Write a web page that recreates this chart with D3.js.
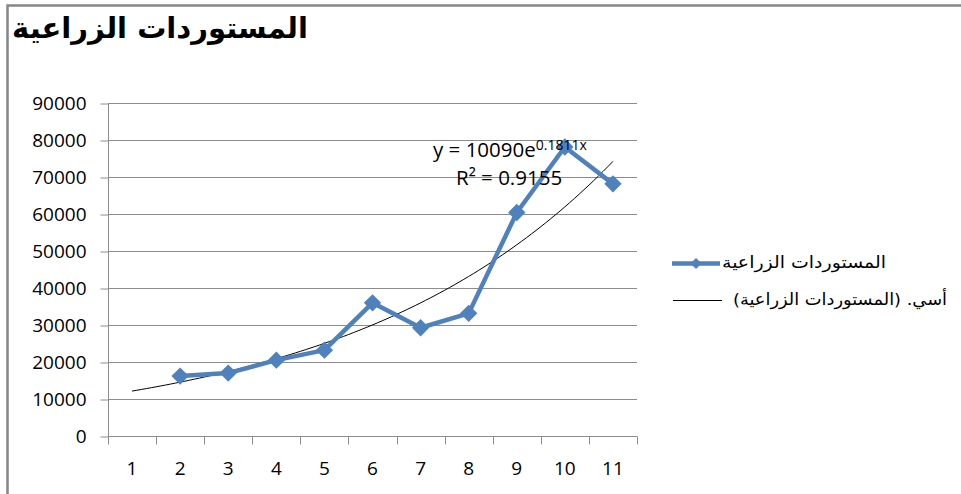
<!DOCTYPE html>
<html>
<head>
<meta charset="utf-8">
<script src="https://cdn.jsdelivr.net/npm/d3@7"></script>
<style>
  body { margin: 0; background: #fff; }
  svg { display: block; }
</style>
</head>
<body>
<div id="chart"></div>
<script>
// chart data
var categories = ["1", "2", "3", "4", "5", "6", "7", "8", "9", "10", "11"];
var imports = [null, 16200, 17000, 20500, 23200, 36000, 29250, 33150, 60400, 78100, 68150];
var yTicks = [0, 10000, 20000, 30000, 40000, 50000, 60000, 70000, 80000, 90000];
var titleText = "المستوردات الزراعية";
var seriesName = "المستوردات الزراعية";
var trendName = "أسي. (المستوردات الزراعية)";
var eqMain = "y = 10090e";
var eqExp = "0.1811x";
var r2Text = "R² = 0.9155";

var svgWidth = 961, svgHeight = 494;
var margin = { top: 103, left: 108, right: 324, bottom: 58 };
var width = svgWidth - margin.left - margin.right;
var height = svgHeight - margin.top - margin.bottom;
var blue = "#4F81BD", gridCol = "#8c8c8c";

var svg = d3.select("#chart").append("svg")
  .attr("width", svgWidth)
  .attr("height", svgHeight);

svg.append("rect").attr("width", svgWidth).attr("height", svgHeight).attr("fill", "#fff");

// outer chart border
svg.append("rect")
  .attr("x", 7.5).attr("y", 5.5)
  .attr("width", 980).attr("height", 520)
  .attr("fill", "none")
  .attr("stroke", "#868686")
  .attr("stroke-width", 2.5);

svg.append("text")
  .attr("x", 12).attr("y", 38)
  .attr("font-family", "DejaVu Sans, sans-serif")
  .attr("font-weight", "bold")
  .attr("font-size", 29)
  .attr("textLength", 296)
  .attr("lengthAdjust", "spacingAndGlyphs")
  .attr("fill", "#000")
  .text(titleText);

var g = svg.append("g").attr("transform", `translate(${margin.left},${margin.top})`);

var xScale = d3.scaleBand().domain(categories).range([0, width]);
var yScale = d3.scaleLinear().domain([0, 90000]).range([height, 0]);

// gridlines
g.selectAll(".grid").data(yTicks.slice(1)).enter().append("line")
  .attr("x1", 0).attr("x2", width)
  .attr("y1", d => Math.round(yScale(d)) + 0.5)
  .attr("y2", d => Math.round(yScale(d)) + 0.5)
  .attr("stroke", gridCol).attr("stroke-width", 1);

// y axis
var yAxis = d3.axisLeft(yScale).tickValues(yTicks).tickSize(8).tickPadding(14).tickFormat(d3.format("d"));
var yg = g.append("g").attr("transform", "translate(0.5,0)").call(yAxis);
yg.select(".domain").remove();
yg.append("line").attr("x1", 0).attr("x2", 0).attr("y1", 0).attr("y2", height)
  .attr("stroke", gridCol);
yg.selectAll(".tick line").attr("stroke", gridCol);
yg.selectAll(".tick line").attr("transform", "translate(0,0.5)");
yg.selectAll("text")
  .attr("font-family", "Open Sans, sans-serif")
  .attr("font-size", 19)
  .attr("fill", "#000");

// x axis, ticks between categories
var xg = g.append("g").attr("transform", `translate(0,${Math.round(height) + 0.5})`);
xg.append("line").attr("x1", 0).attr("x2", width).attr("stroke", gridCol);
var bounds = d3.range(categories.length + 1).map(i => i * xScale.step());
xg.selectAll(".xt").data(bounds).enter().append("line")
  .attr("x1", d => Math.round(d) + 0.5).attr("x2", d => Math.round(d) + 0.5)
  .attr("y1", 0).attr("y2", 8)
  .attr("stroke", gridCol);
xg.selectAll(".xl").data(categories).enter().append("text")
  .attr("x", d => xScale(d) + xScale.bandwidth() / 2)
  .attr("y", 38)
  .attr("text-anchor", "middle")
  .attr("font-family", "Open Sans, sans-serif")
  .attr("font-size", 19)
  .attr("fill", "#000")
  .text(d => d);

var cx = i => xScale(categories[i]) + xScale.bandwidth() / 2;

// exponential trendline fitted on the data (x = category number)
var pts = imports.map((v, i) => ({ x: i + 1, v: v })).filter(p => p.v != null);
var mx = d3.mean(pts, p => p.x), my = d3.mean(pts, p => Math.log(p.v));
var b = d3.sum(pts, p => (p.x - mx) * (Math.log(p.v) - my)) / d3.sum(pts, p => (p.x - mx) * (p.x - mx));
var a = Math.exp(my - b * mx);
var trendX = d3.range(1, categories.length + 0.001, 0.1);
var xPos = d3.scaleLinear().domain([1, categories.length]).range([cx(0), cx(categories.length - 1)]);

g.append("path")
  .datum(trendX)
  .attr("d", d3.line().x(d => xPos(d)).y(d => yScale(a * Math.exp(b * d))))
  .attr("fill", "none")
  .attr("stroke", "#000")
  .attr("stroke-width", 1);

// series line
var seriesPts = imports.map((v, i) => ({ i: i, v: v })).filter(p => p.v != null);
g.append("path")
  .datum(seriesPts)
  .attr("d", d3.line().x(d => cx(d.i)).y(d => yScale(d.v)))
  .attr("fill", "none")
  .attr("stroke", blue)
  .attr("stroke-width", 4.5)
  .attr("stroke-linejoin", "round");

var diamond = d3.symbol().type(d3.symbolSquare).size(150);
g.selectAll(".mk").data(seriesPts).enter().append("path")
  .attr("d", diamond)
  .attr("transform", d => `translate(${cx(d.i)},${yScale(d.v)}) rotate(45)`)
  .attr("fill", blue);

// equation label
var eq = svg.append("text")
  .attr("x", 433).attr("y", 157)
  .attr("font-family", "Open Sans, sans-serif")
  .attr("font-size", 20.5)
  .attr("fill", "#000");
eq.append("tspan").text(eqMain);
eq.append("tspan").attr("dy", -7).attr("font-size", 14).text(eqExp);
svg.append("text")
  .attr("x", 456).attr("y", 185)
  .attr("font-family", "Open Sans, sans-serif")
  .attr("font-size", 20.5)
  .attr("fill", "#000")
  .text(r2Text);

// legend
var leg = svg.append("g");
leg.append("line").attr("x1", 672).attr("x2", 720).attr("y1", 263.5).attr("y2", 263.5)
  .attr("stroke", blue).attr("stroke-width", 4.5);
leg.append("path").attr("d", d3.symbol().type(d3.symbolSquare).size(60))
  .attr("transform", "translate(696,263.5) rotate(45)").attr("fill", blue);
leg.append("text").attr("x", 722).attr("y", 268)
  .attr("font-family", "DejaVu Sans, sans-serif").attr("font-size", 16.5)
  .attr("textLength", 164).attr("lengthAdjust", "spacingAndGlyphs")
  .text(seriesName);
leg.append("line").attr("x1", 673).attr("x2", 722).attr("y1", 300.5).attr("y2", 300.5)
  .attr("stroke", "#000").attr("stroke-width", 1);
leg.append("text").attr("x", 733).attr("y", 305)
  .attr("font-family", "DejaVu Sans, sans-serif").attr("font-size", 16.5)
  .attr("textLength", 214).attr("lengthAdjust", "spacingAndGlyphs")
  .text(trendName);
</script>
</body>
</html>
